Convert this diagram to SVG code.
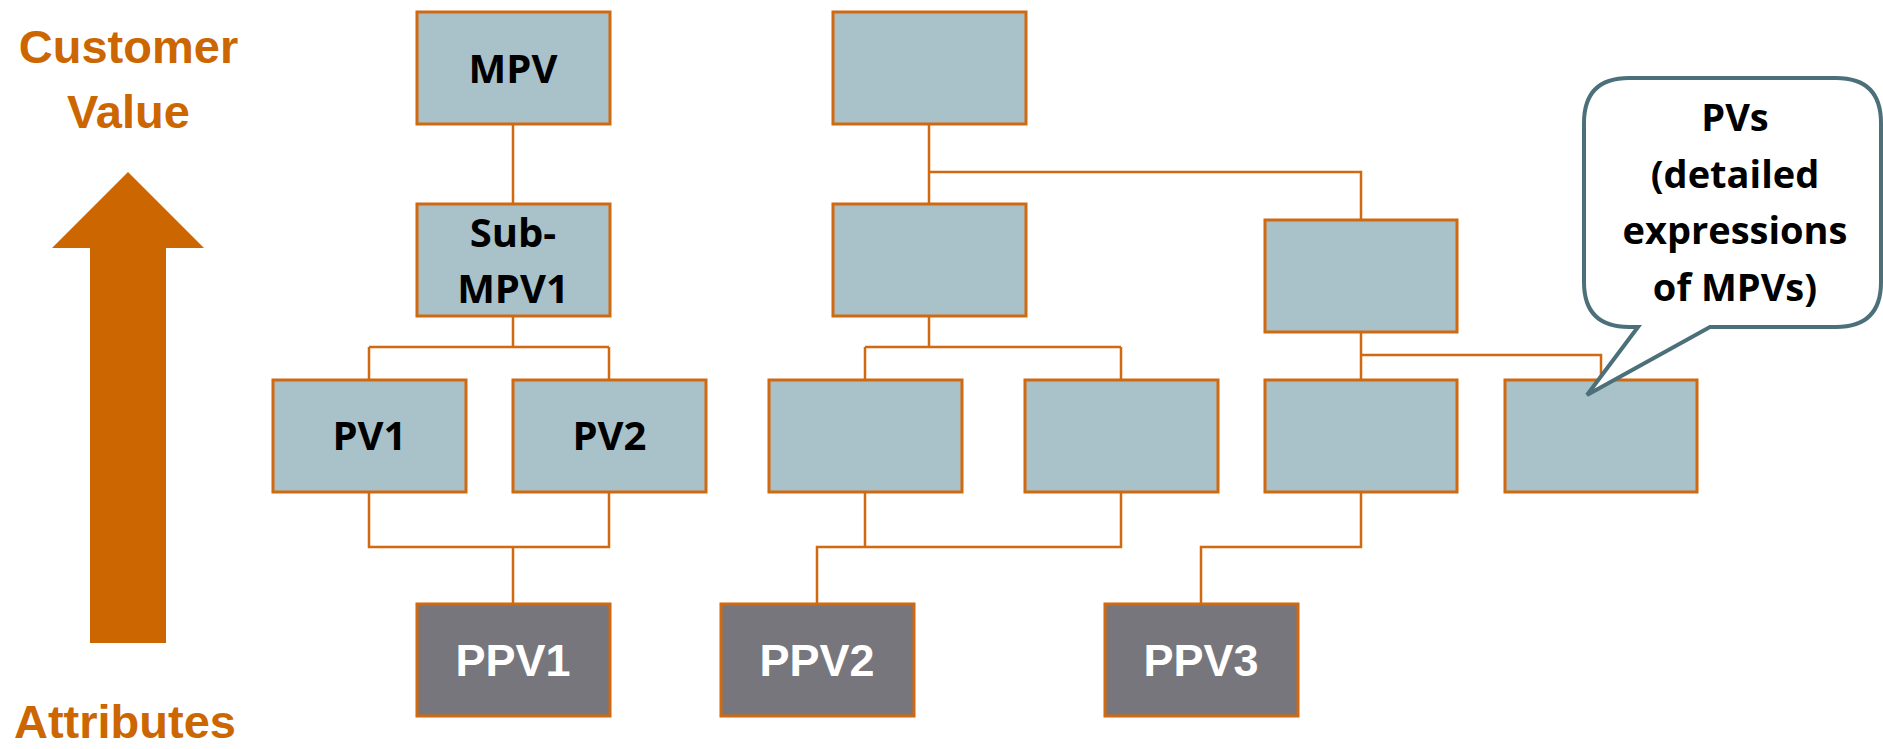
<svg xmlns="http://www.w3.org/2000/svg" width="1883" height="749" viewBox="0 0 1883 749">
<style>
.box{fill:#A9C2C9;stroke:#D0690F;stroke-width:3}
.ppv{fill:#78767D;stroke:#D0690F;stroke-width:3}
.lbl{font-family:"Open Sans","Liberation Sans",sans-serif;font-weight:bold;font-size:40px;fill:#000;text-anchor:middle}
.blbl{font-family:"Open Sans","Liberation Sans",sans-serif;font-weight:bold;font-size:38px;fill:#000;text-anchor:middle}
.plbl{font-family:"Liberation Sans",Arial,sans-serif;font-weight:bold;font-size:45px;fill:#fff;text-anchor:middle}
.axis{font-family:"Liberation Sans",Arial,sans-serif;font-weight:bold;font-size:47px;fill:#CC6600;text-anchor:middle}
.conn{fill:none;stroke:#D0690F;stroke-width:2.5}
</style>
<rect width="1883" height="749" fill="#fff"/>
<g id="axis">
<text class="axis" x="128.5" y="63">Customer</text>
<text class="axis" x="128.5" y="128">Value</text>
<polygon points="128,172 204,248 166,248 166,643 90,643 90,248 52,248" fill="#CC6600"/>
<text class="axis" x="125" y="738">Attributes</text>
</g>
<g id="connectors">
<path class="conn" d="M513,124V203 M513,316V347 M369,347H609 M369,347V379 M609,347V379"/>
<path class="conn" d="M369,492V547H609V492 M513,547V603"/>
<path class="conn" d="M929,124V203 M929,172H1361V219"/>
<path class="conn" d="M929,316V347 M865,347H1121 M865,347V379 M1121,347V379"/>
<path class="conn" d="M1361,332V379 M1361,355H1601V379"/>
<path class="conn" d="M865,492V547 M1121,492V547H817V603"/>
<path class="conn" d="M1361,492V547H1201V603"/>
</g>
<g id="mpv"><rect class="box" x="417" y="12" width="193" height="112"/><text class="lbl" x="513" y="83">MPV</text></g>
<g id="submpv1"><rect class="box" x="417" y="204" width="193" height="112"/><text class="lbl" x="513" y="247">Sub-</text><text class="lbl" x="513" y="303">MPV1</text></g>
<g id="mpv2"><rect class="box" x="833" y="12" width="193" height="112"/></g>
<g id="submpv2"><rect class="box" x="833" y="204" width="193" height="112"/></g>
<g id="submpv3"><rect class="box" x="1265" y="220" width="192" height="112"/></g>
<g id="pv1"><rect class="box" x="273" y="380" width="193" height="112"/><text class="lbl" x="369.5" y="450">PV1</text></g>
<g id="pv2"><rect class="box" x="513" y="380" width="193" height="112"/><text class="lbl" x="609.5" y="450">PV2</text></g>
<g id="pv3"><rect class="box" x="769" y="380" width="193" height="112"/></g>
<g id="pv4"><rect class="box" x="1025" y="380" width="193" height="112"/></g>
<g id="pv5"><rect class="box" x="1265" y="380" width="192" height="112"/></g>
<g id="pv6"><rect class="box" x="1505" y="380" width="192" height="112"/></g>
<g id="ppv1"><rect class="ppv" x="417" y="604" width="193" height="112"/><text class="plbl" x="513" y="676">PPV1</text></g>
<g id="ppv2"><rect class="ppv" x="721" y="604" width="193" height="112"/><text class="plbl" x="817" y="676">PPV2</text></g>
<g id="ppv3"><rect class="ppv" x="1105" y="604" width="193" height="112"/><text class="plbl" x="1201" y="676">PPV3</text></g>
<g id="callout">
<path d="M1629,78 H1836 Q1881,78 1881,123 V282 Q1881,327 1836,327 H1710 L1587,395 L1638,327 H1629 Q1584,327 1584,282 V123 Q1584,78 1629,78 Z" fill="#fff" stroke="#4B707A" stroke-width="4" stroke-linejoin="miter"/>
<text class="blbl" x="1735" y="131">PVs</text>
<text class="blbl" x="1735" y="188">(detailed</text>
<text class="blbl" x="1735" y="244">expressions</text>
<text class="blbl" x="1735" y="301">of MPVs)</text>
</g>
</svg>
